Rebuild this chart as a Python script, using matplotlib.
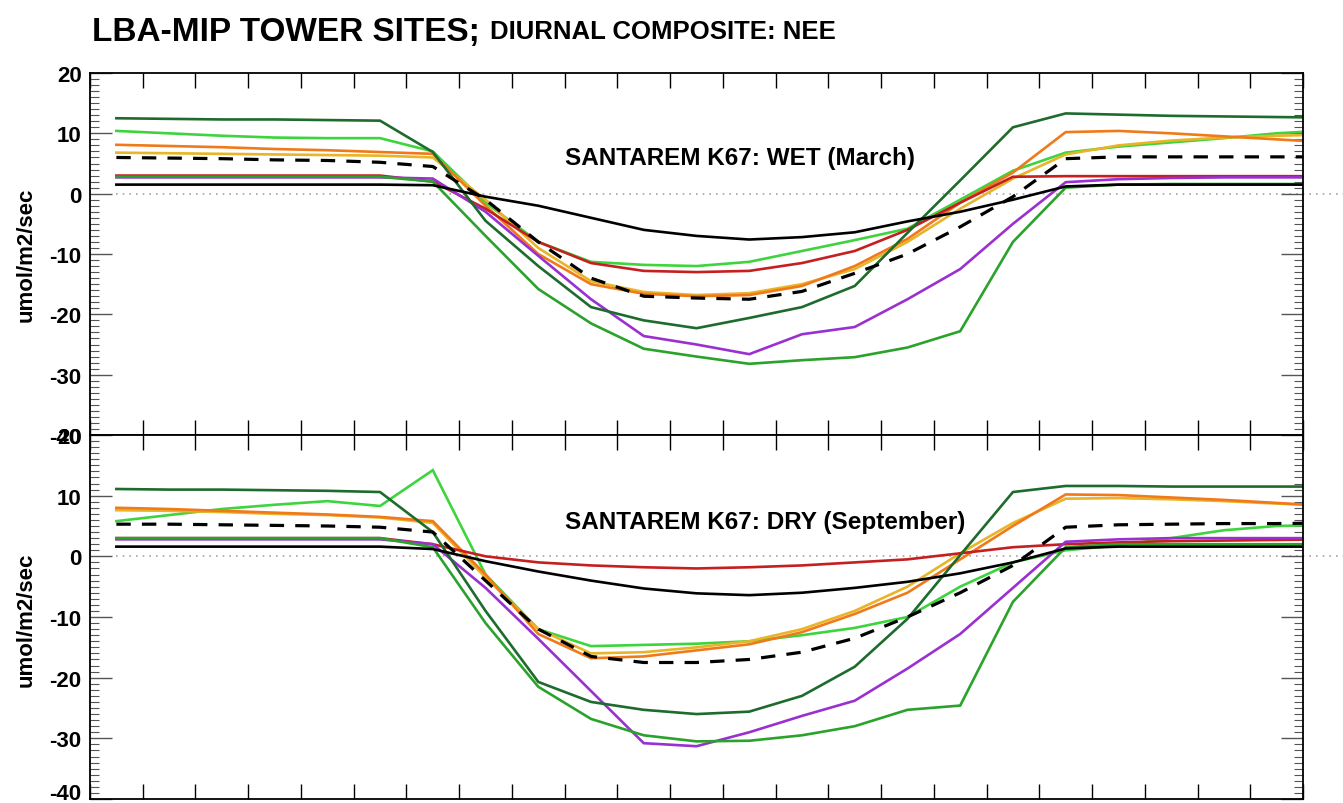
import matplotlib
matplotlib.use("Agg")
import matplotlib.pyplot as plt
import matplotlib.transforms as mtransforms
from matplotlib.ticker import MultipleLocator

# ---------------- data ----------------
hours = [0.5, 1.5, 2.5, 3.5, 4.5, 5.5, 6.5, 7.5, 8.5, 9.5, 10.5, 11.5,
         12.5, 13.5, 14.5, 15.5, 16.5, 17.5, 18.5, 19.5, 20.5, 21.5, 22.5, 23.5]

# WET season (March)
wet_darkgreen = [12.5, 12.4, 12.3, 12.3, 12.2, 12.1, 6.9, -4.5, -12.0, -18.8, -21.0, -22.3,
                 -20.6, -18.8, -15.3, -6.5, 2.2, 11.0, 13.3, 13.1, 12.9, 12.8, 12.7, 12.6]
wet_medgreen = [2.8, 2.8, 2.8, 2.8, 2.8, 2.8, 2.0, -7.0, -15.8, -21.5, -25.7, -27.0,
                -28.2, -27.6, -27.1, -25.5, -22.8, -8.0, 1.0, 1.5, 1.6, 1.6, 1.6, 1.6]
wet_lightgreen = [10.4, 10.0, 9.6, 9.3, 9.2, 9.2, 7.0, -1.5, -8.0, -11.3, -11.8, -12.0,
                  -11.3, -9.5, -7.7, -5.8, -1.0, 3.8, 6.8, 7.8, 8.5, 9.2, 10.0, 10.5]
wet_orange = [8.1, 7.9, 7.7, 7.4, 7.2, 6.9, 6.6, -2.0, -10.0, -15.0, -16.6, -17.0,
              -16.8, -15.3, -12.0, -7.5, -1.5, 3.5, 10.2, 10.4, 10.0, 9.5, 9.0, 8.5]
wet_gold = [6.8, 6.7, 6.6, 6.5, 6.4, 6.3, 6.0, -1.0, -9.0, -14.5, -16.3, -16.8,
            -16.5, -15.0, -12.5, -8.0, -2.5, 2.5, 6.5, 8.0, 8.8, 9.3, 9.6, 9.8]
wet_red = [3.0, 3.0, 3.0, 3.0, 3.0, 3.0, 2.0, -2.5, -8.0, -11.5, -12.8, -13.0,
           -12.8, -11.5, -9.5, -6.0, -1.5, 2.8, 2.9, 2.9, 2.9, 2.9, 2.9, 2.9]
wet_purple = [2.7, 2.7, 2.7, 2.7, 2.7, 2.7, 2.5, -3.0, -10.3, -17.5, -23.6, -25.0,
              -26.6, -23.3, -22.1, -17.5, -12.5, -5.0, 1.9, 2.4, 2.6, 2.7, 2.7, 2.7]
wet_black = [1.5, 1.5, 1.5, 1.5, 1.5, 1.5, 1.4, -0.5, -2.0, -4.0, -6.0, -7.0,
             -7.6, -7.2, -6.4, -4.6, -3.0, -1.0, 1.2, 1.5, 1.5, 1.5, 1.5, 1.5]
wet_dashed = [6.0, 5.9, 5.8, 5.6, 5.5, 5.2, 4.5, -1.0, -8.0, -14.0, -17.0, -17.3,
              -17.5, -16.2, -13.2, -10.0, -5.5, -0.5, 5.8, 6.1, 6.1, 6.1, 6.1, 6.1]

# DRY season (September)
dry_darkgreen = [11.1, 11.0, 11.0, 10.9, 10.8, 10.6, 4.0, -9.0, -20.7, -24.0, -25.3, -26.0,
                 -25.6, -23.0, -18.2, -10.3, 0.2, 10.6, 11.6, 11.6, 11.5, 11.5, 11.5, 11.5]
dry_medgreen = [3.0, 3.0, 3.0, 3.0, 3.0, 3.0, 1.5, -11.0, -21.5, -26.8, -29.5, -30.5,
                -30.4, -29.5, -28.0, -25.3, -24.6, -7.5, 1.5, 2.0, 2.0, 2.0, 2.0, 2.0]
dry_lightgreen = [5.8, 6.8, 7.8, 8.5, 9.1, 8.3, 14.2, -3.0, -12.0, -14.8, -14.6, -14.4,
                  -14.0, -13.0, -11.8, -10.0, -5.0, -1.0, 1.0, 1.8, 3.0, 4.3, 5.0, 5.2]
dry_orange = [8.0, 7.8, 7.5, 7.2, 6.9, 6.5, 5.8, -3.0, -12.8, -16.8, -16.5, -15.5,
              -14.5, -12.5, -9.5, -6.0, -0.5, 5.0, 10.2, 10.1, 9.7, 9.3, 8.8, 8.3]
dry_gold = [7.6, 7.5, 7.3, 7.0, 6.8, 6.4, 5.5, -3.5, -12.0, -16.0, -15.8, -15.0,
            -14.0, -12.0, -9.0, -5.0, 0.5, 5.5, 9.5, 9.6, 9.4, 9.1, 8.7, 8.3]
dry_red = [3.0, 3.0, 3.0, 3.0, 3.0, 3.0, 2.0, 0.0, -1.0, -1.5, -1.8, -2.0,
           -1.8, -1.5, -1.0, -0.5, 0.5, 1.5, 2.0, 2.3, 2.5, 2.6, 2.7, 2.8]
dry_purple = [2.8, 2.8, 2.8, 2.8, 2.8, 2.8, 2.0, -5.2, -13.6, -22.2, -30.8, -31.3,
              -29.0, -26.3, -23.8, -18.5, -12.8, -5.2, 2.4, 2.8, 3.0, 3.0, 3.0, 3.0]
dry_black = [1.6, 1.6, 1.6, 1.6, 1.6, 1.6, 1.2, -0.8, -2.5, -4.0, -5.3, -6.1,
             -6.4, -6.0, -5.2, -4.2, -2.8, -1.0, 1.3, 1.6, 1.6, 1.6, 1.6, 1.6]
dry_dashed = [5.3, 5.3, 5.2, 5.1, 5.0, 4.8, 4.0, -4.0, -12.0, -16.5, -17.5, -17.5,
              -17.0, -15.8, -13.5, -10.0, -6.0, -1.5, 4.8, 5.2, 5.3, 5.4, 5.4, 5.5]

yticks = [-40, -30, -20, -10, 0, 10, 20]
panel_titles = ["SANTAREM K67: WET (March)", "SANTAREM K67: DRY (September)"]

colors = {
    "lightgreen": "#3ed43e",
    "gold": "#e8b428",
    "orange": "#f07a1a",
    "red": "#c42020",
    "purple": "#9a30d0",
    "medgreen": "#2ba22b",
    "darkgreen": "#1e6b2e",
    "black": "#000000",
}

wet = {"lightgreen": wet_lightgreen, "gold": wet_gold, "orange": wet_orange,
       "red": wet_red, "purple": wet_purple, "medgreen": wet_medgreen,
       "darkgreen": wet_darkgreen, "black": wet_black}
dry = {"lightgreen": dry_lightgreen, "gold": dry_gold, "orange": dry_orange,
       "red": dry_red, "purple": dry_purple, "medgreen": dry_medgreen,
       "darkgreen": dry_darkgreen, "black": dry_black}

# ---------------- figure ----------------
FONT = ["Liberation Sans", "DejaVu Sans"]
plt.rcParams["font.family"] = FONT
fig = plt.figure(figsize=(13.43, 8.04), dpi=100)

L, W = 90 / 1343, 1213 / 1343
ax_top = fig.add_axes([L, 1 - 436 / 804, W, 362 / 804])
ax_bot = fig.add_axes([L, 1 - 800 / 804, W, 364 / 804])

for ax, series, dashed, title, ty in [(ax_top, wet, wet_dashed, panel_titles[0], 5.0),
                                       (ax_bot, dry, dry_dashed, panel_titles[1], 4.6)]:
    ax.set_xlim(0, 23)
    ax.set_ylim(-40, 20)
    # zero reference line
    ax.plot([0.5, 23.75], [0, 0], ls=(0, (1, 3)), color="#b0a0a0", lw=1.2, clip_on=False, zorder=1)
    for name, vals in series.items():
        ax.plot(hours, vals, color=colors[name], lw=1.9, solid_joinstyle="miter", zorder=2)
    ax.plot(hours, dashed, color="black", lw=2.3, dashes=(4.5, 3.5), zorder=3)
    ax.text(9.0, ty, title, fontsize=17.5, fontweight="bold", va="baseline", ha="left")

    ax.xaxis.set_major_locator(MultipleLocator(1))
    ax.yaxis.set_minor_locator(MultipleLocator(1))
    ax.set_yticks(yticks)
    ax.set_yticklabels([str(t) for t in yticks], fontsize=16, fontweight="bold")
    ax.set_xticklabels([])
    ax.tick_params(axis="x", which="major", direction="in", top=True, bottom=True,
                   length=10.8, width=1.0, labelbottom=False)
    ax.tick_params(axis="y", which="major", direction="in", left=True, right=True,
                   length=16, width=1.0, color="#555555", pad=6)
    ax.tick_params(axis="y", which="minor", direction="in", left=True, right=True,
                   length=6.5, width=0.8, color="#555555")
    for s in ax.spines.values():
        s.set_linewidth(1.3)

# nudge the lowest label of the bottom panel up a little so it stays inside the image
lowest = ax_bot.get_yticklabels()[0]
lowest.set_transform(lowest.get_transform() +
                     mtransforms.ScaledTranslation(0, 8 / 100, fig.dpi_scale_trans))

fig.text(26 / 1343, 1 - 255 / 804, "umol/m2/sec", rotation=90, fontsize=16,
         fontweight="bold", ha="center", va="center")
fig.text(26 / 1343, 1 - 620 / 804, "umol/m2/sec", rotation=90, fontsize=16,
         fontweight="bold", ha="center", va="center")

fig.text(92 / 1343, 1 - 41 / 804, "LBA-MIP TOWER SITES;", fontsize=24,
         fontweight="bold", ha="left", va="baseline")
fig.text(490 / 1343, 1 - 39 / 804, "DIURNAL COMPOSITE: NEE", fontsize=18.5,
         fontweight="bold", ha="left", va="baseline")

fig.savefig("out.png", dpi=100)
